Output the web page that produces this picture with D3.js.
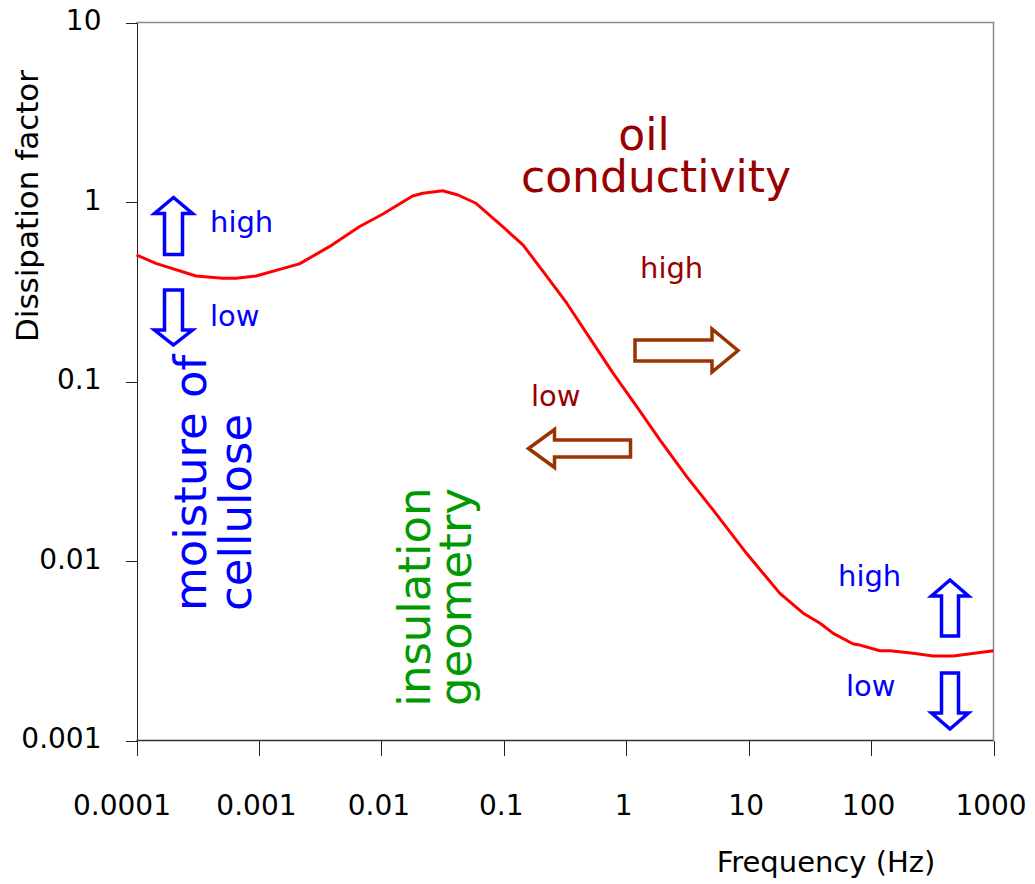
<!DOCTYPE html>
<html>
  <head>
    <title>Dissipation factor vs frequency</title>
    <style type="text/css">
        body{
            margin: 0;
            background: #fff;
        }
        text{
            font-family: "DejaVu Sans", sans-serif;
        }
        .axis path, .axis line{
            stroke: #222;
            stroke-width: 1px;
            shape-rendering: crispEdges;
        }
        .frame{
            fill: none;
            stroke: #8c8c8c;
            stroke-width: 1.5px;
        }
        .curve{
            fill: none;
            stroke: #ff0000;
            stroke-width: 3px;
            stroke-linejoin: round;
        }
        .arrow{
            fill: #fff;
            stroke-width: 3.5px;
            stroke-linejoin: miter;
        }
    </style>
  </head>
  <body>
    <div id="chart"></div>

    <script src="https://cdn.jsdelivr.net/npm/d3@7"></script>
    <script>

        //  Curve: frequency (Hz) and dissipation factor
        var freq = [0.0001, 0.000144, 0.000306, 0.000506, 0.00065, 0.000946, 0.00214, 0.00376,
                    0.0066, 0.0103, 0.018, 0.0218, 0.0317, 0.0423, 0.0593, 0.098, 0.144, 0.21,
                    0.327, 0.506, 0.783, 1.22, 1.89, 3.12, 5.14, 9.64, 18.0, 27.9, 38.3, 49.1,
                    71.6, 81.3, 118, 143, 221, 322, 469, 1000];
        var dissipation = [0.507, 0.455, 0.387, 0.376, 0.376, 0.387, 0.452, 0.564,
                    0.728, 0.857, 1.08, 1.118, 1.156, 1.094, 0.984, 0.728, 0.575, 0.409,
                    0.273, 0.174, 0.111, 0.0724, 0.0472, 0.0295, 0.0192, 0.0110, 0.0066, 0.00512, 0.0045, 0.00395,
                    0.00345, 0.0034, 0.00316, 0.00316, 0.00306, 0.00296, 0.00296, 0.00316];

        var xTicks = [0.0001, 0.001, 0.01, 0.1, 1, 10, 100, 1000];
        var xTickLabels = ["0.0001", "0.001", "0.01", "0.1", "1", "10", "100", "1000"];
        var yTicks = [0.001, 0.01, 0.1, 1, 10];
        var yTickLabels = ["0.001", "0.01", "0.1", "1", "10"];

        var width = 1035, height = 884;
        //  Plot area edges (note: "top" is taken by window.top)
        var plotLeft = 136.5, plotRight = 993.5, plotTop = 22.5, plotBottom = 740.5;

        var svg = d3.select("#chart").append("svg")
            .attr("width", width)
            .attr("height", height);

        var x = d3.scaleLog().domain([1e-4, 1e3]).range([plotLeft, plotRight]);
        var y = d3.scaleLog().domain([1e-3, 10]).range([plotBottom, plotTop]);

        //  Grey top and right border of the plot area
        svg.append("path")
            .attr("class", "frame")
            .attr("d", "M" + plotLeft + "," + plotTop + "H" + plotRight + "V" + plotBottom);

        //  Axes
        var yAxis = d3.axisLeft(y)
            .tickValues(yTicks)
            .tickFormat((d, i) => yTickLabels[i])
            .tickSize(11)
            .tickSizeOuter(0)
            .tickPadding(24);
        var gy = svg.append("g")
            .attr("class", "axis")
            .attr("transform", "translate(" + plotLeft + ",0)")
            .call(yAxis);
        gy.selectAll("text")
            .attr("dy", "7")
            .style("font-size", "28px")
            .style("fill", "#000");

        var xAxis = d3.axisBottom(x)
            .tickValues(xTicks)
            .tickFormat((d, i) => xTickLabels[i])
            .tickSize(15)
            .tickSizeOuter(0);
        var gx = svg.append("g")
            .attr("class", "axis")
            .attr("transform", "translate(0," + plotBottom + ")")
            .call(xAxis);
        gx.selectAll("text")
            .attr("y", 74)
            .attr("dy", 0)
            .attr("x", (d, i) => i === 0 ? -15 : -3)
            .style("font-size", "28px")
            .style("fill", "#000");
        gx.selectAll(".domain").remove();
        svg.append("line")
            .attr("x1", plotLeft).attr("x2", plotRight)
            .attr("y1", plotBottom).attr("y2", plotBottom)
            .style("stroke", "#333")
            .style("stroke-width", "1.5px");

        //  Axis titles
        svg.append("text")
            .attr("transform", "translate(38,206) rotate(-90)")
            .attr("text-anchor", "middle")
            .style("font-size", "31px")
            .text("Dissipation factor");

        svg.append("text")
            .attr("x", 826)
            .attr("y", 872)
            .attr("text-anchor", "middle")
            .style("font-size", "29px")
            .text("Frequency (Hz)");

        //  The response curve
        var line = d3.line()
            .x((d, i) => x(freq[i]))
            .y(d => y(d));

        svg.append("path")
            .datum(dissipation)
            .attr("class", "curve")
            .attr("d", line);

        //  Block arrows: tip position, direction, length, widths
        var arrows = [
            {x: 173.5, y: 197.5, dir: "up",    len: 57, shaft: 18, head: 38, headLen: 16, color: "#0000ff"},
            {x: 173.5, y: 345,   dir: "down",  len: 55, shaft: 18, head: 38, headLen: 15, color: "#0000ff"},
            {x: 950,   y: 580,   dir: "up",    len: 56, shaft: 17, head: 37, headLen: 16, color: "#0000ff"},
            {x: 950,   y: 729,   dir: "down",  len: 56, shaft: 17, head: 37, headLen: 16, color: "#0000ff"},
            {x: 738,   y: 350.5, dir: "right", len: 103, shaft: 21, head: 43, headLen: 26, color: "#993300"},
            {x: 528.5, y: 448.5, dir: "left",  len: 102, shaft: 17, head: 38, headLen: 26, color: "#993300"}
        ];

        function arrowPath(a){
            //  Built pointing right from the tip at (0,0), then rotated
            var s = a.shaft / 2, h = a.head / 2;
            var pts = [[0, 0], [-a.headLen, -h], [-a.headLen, -s], [-a.len, -s],
                       [-a.len, s], [-a.headLen, s], [-a.headLen, h]];
            return "M" + pts.map(p => p.join(",")).join("L") + "Z";
        }
        var angle = {right: 0, down: 90, left: 180, up: -90};

        svg.selectAll(".arrow")
            .data(arrows)
            .enter().append("path")
            .attr("class", "arrow")
            .attr("d", arrowPath)
            .attr("transform", d => "translate(" + d.x + "," + d.y + ") rotate(" + angle[d.dir] + ")")
            .style("stroke", d => d.color);

        //  Text annotations
        var labels = [
            {text: "high", x: 210, y: 232, size: 29, color: "#0000ff", anchor: "start", rot: 0},
            {text: "low", x: 210, y: 326, size: 29, color: "#0000ff", anchor: "start", rot: 0},
            {text: "moisture of", x: 206, y: 611, size: 45, color: "#0000ff", anchor: "start", rot: -90},
            {text: "cellulose", x: 251, y: 611, size: 45, color: "#0000ff", anchor: "start", rot: -90},
            {text: "insulation", x: 430, y: 597, size: 45, color: "#009900", anchor: "middle", rot: -90},
            {text: "geometry", x: 471, y: 597, size: 45, color: "#009900", anchor: "middle", rot: -90},
            {text: "oil", x: 644, y: 150, size: 44, color: "#990000", anchor: "middle", rot: 0},
            {text: "conductivity", x: 656, y: 192, size: 44, color: "#990000", anchor: "middle", rot: 0},
            {text: "high", x: 640, y: 278, size: 29, color: "#990000", anchor: "start", rot: 0},
            {text: "low", x: 531, y: 406, size: 29, color: "#990000", anchor: "start", rot: 0},
            {text: "high", x: 838, y: 586, size: 29, color: "#0000ff", anchor: "start", rot: 0},
            {text: "low", x: 846, y: 696, size: 29, color: "#0000ff", anchor: "start", rot: 0}
        ];

        svg.selectAll(".note")
            .data(labels)
            .enter().append("text")
            .attr("class", "note")
            .attr("transform", d => "translate(" + d.x + "," + d.y + ") rotate(" + d.rot + ")")
            .attr("text-anchor", d => d.anchor)
            .style("font-size", d => d.size + "px")
            .style("fill", d => d.color)
            .text(d => d.text);

    </script>
  </body>
</html>
